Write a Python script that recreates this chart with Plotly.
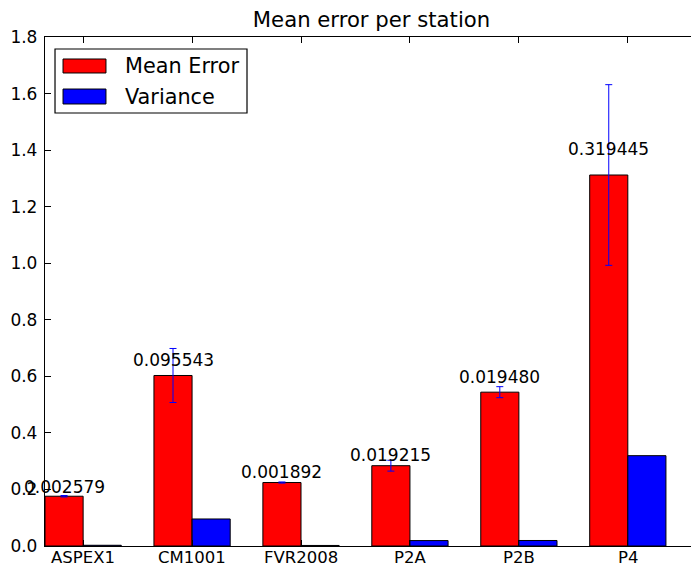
import plotly.graph_objects as go

stations = ["ASPEX1", "CM1001", "FVR2008", "P2A", "P2B", "P4"]
mean_error = [0.176, 0.603, 0.2245, 0.284, 0.544, 1.312]
variance = [0.002579, 0.095543, 0.001892, 0.019215, 0.019480, 0.319445]
y_ticks = [0.0, 0.2, 0.4, 0.6, 0.8, 1.0, 1.2, 1.4, 1.6, 1.8]

width = 0.35
ind = list(range(len(stations)))
red_x = [i + width / 2 for i in ind]
blue_x = [i + width * 1.5 for i in ind]
tick_x = [i + width for i in ind]
FONT = "DejaVu Sans"

fig = go.Figure()
fig.add_trace(go.Bar(
    x=red_x, y=mean_error, width=width, name="Mean Error",
    marker=dict(color="#ff0000", line=dict(color="black", width=1)),
    error_y=dict(type="data", array=variance, visible=True, color="#0000ff",
                 thickness=1, width=3.5),
))
fig.add_trace(go.Bar(
    x=blue_x, y=variance, width=width, name="Variance",
    marker=dict(color="#0000ff", line=dict(color="black", width=1)),
))

for x, h, v in zip(red_x, mean_error, variance):
    fig.add_annotation(x=x, y=1.05 * h, text=f"{v:f}", showarrow=False,
                       xanchor="center", yanchor="bottom", yshift=-5,
                       font=dict(family=FONT, size=17, color="black"))

# category labels under the axis (placed tight to the axis like the reference)
for x, name in zip(tick_x, stations):
    fig.add_annotation(x=x, xref="x", y=0, yref="paper", text=name,
                       showarrow=False, xanchor="center", yanchor="top",
                       yshift=0, font=dict(family=FONT, size=16.5, color="black"))

# legend (drawn manually to match the boxed, wide-patch style)
fig.add_shape(type="rect", xref="paper", yref="paper", x0=0.0155, x1=0.3127,
              y0=0.8507, y1=0.9764, line=dict(color="black", width=1.2),
              fillcolor="white", layer="above")
legend_items = [("Mean Error", "#ff0000", 0.9293, 0.9568, 0.943),
                ("Variance", "#0000ff", 0.8684, 0.8978, 0.882)]
for label, col, y0, y1, ty in legend_items:
    fig.add_shape(type="rect", xref="paper", yref="paper", x0=0.0279, x1=0.0944,
                  y0=y0, y1=y1, fillcolor=col, line=dict(color="black", width=1),
                  layer="above")
    fig.add_annotation(xref="paper", yref="paper", x=0.1207, y=ty, text=label,
                       showarrow=False, xanchor="left", yanchor="middle",
                       font=dict(family=FONT, size=20.8, color="black"))

fig.update_layout(
    width=691, height=567,
    margin=dict(l=45, r=0, t=37, b=21, autoexpand=False),
    paper_bgcolor="white", plot_bgcolor="white",
    showlegend=False, barmode="overlay",
    font=dict(family=FONT, size=17, color="black"),
    title=dict(text="Mean error per station", x=371.5 / 691, xanchor="center",
               xref="container", y=1 - 20 / 567, yanchor="middle",
               font=dict(family=FONT, size=21.2, color="black")),
)
fig.update_xaxes(
    range=[0, 5.93], tickmode="array",
    tickvals=tick_x, ticktext=stations, showticklabels=False,
    ticks="inside", ticklen=6, tickcolor="black", tickwidth=1,
    showline=True, linecolor="black", linewidth=1.3, mirror="ticks",
    showgrid=False, zeroline=False,
)
fig.update_yaxes(
    range=[0, 1.8], tickmode="array", tickvals=y_ticks,
    ticktext=[f"{t:.1f}" for t in y_ticks],
    ticks="inside", ticklen=6, tickcolor="black", tickwidth=1,
    showline=True, linecolor="black", linewidth=1.3, ticklabelstandoff=3,
    showgrid=False, zeroline=False, tickfont=dict(size=17),
)

fig.write_html("out.html")
